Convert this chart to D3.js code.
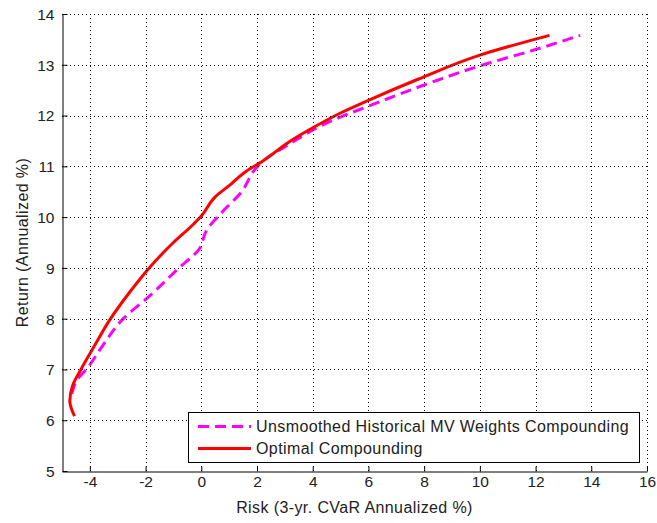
<!DOCTYPE html>
<html>
<head>
<meta charset="utf-8">
<script src="https://cdn.jsdelivr.net/npm/d3@7"></script>
<style>
  body { margin: 0; background: #fff; }
  svg { font-family: "Liberation Sans", Arial, sans-serif; }
</style>
</head>
<body>
<div id="chart"></div>
<script>
// curve points: [risk, return]
const optimalRisk   = [-4.55, -4.72, -4.62, -4.30, -3.85, -3.28, -2.60, -1.90, -1.00, -0.30, 0.00, 0.50, 1.00, 1.60, 2.20, 3.20, 4.20, 5.00, 6.00, 7.80, 10.00, 12.50];
const optimalReturn = [ 6.08,  6.38,  6.68,  7.02,  7.45,  7.98,  8.50,  8.98,  9.50,  9.85, 10.02, 10.40, 10.62, 10.90, 11.10, 11.50, 11.82, 12.05, 12.30, 12.72, 13.19, 13.58];

const mvRisk   = [-4.65, -4.45, -4.10, -3.60, -2.80, -1.85, -0.80, -0.10, 0.20, 0.75, 1.45, 1.90, 2.20, 3.20, 4.30, 6.30, 8.50, 10.00, 12.00, 13.60];
const mvReturn = [ 6.52,  6.80,  7.02,  7.42,  8.00,  8.45,  9.00,  9.35, 9.75, 10.10, 10.50, 10.92, 11.10, 11.45, 11.80, 12.25, 12.70, 12.98, 13.30, 13.58];

const xTicks = [-4, -2, 0, 2, 4, 6, 8, 10, 12, 14, 16];
const yTicks = [5, 6, 7, 8, 9, 10, 11, 12, 13, 14];

const seriesNames = ["Unsmoothed Historical MV Weights Compounding", "Optimal Compounding"];

const W = 657, H = 523;
const margin = { top: 14, right: 10, bottom: 52, left: 62 };

const svg = d3.select("#chart")
    .append("svg")
    .attr("width", W)
    .attr("height", H);

const x = d3.scaleLinear().domain([-5, 16]).range([margin.left, W - margin.right]);
const y = d3.scaleLinear().domain([5, 14]).range([H - margin.bottom, margin.top]);

// return rises along both curves, so smooth with y as the driver
const line = d3.line()
    .x(d => x(d[0]))
    .y(d => y(d[1]))
    .curve(d3.curveMonotoneY);

const mvData = d3.zip(mvRisk, mvReturn);
const optData = d3.zip(optimalRisk, optimalReturn);

// curves
svg.append("path")
    .datum(mvData)
    .attr("d", line)
    .attr("fill", "none")
    .attr("stroke", "#ff00ff")
    .attr("stroke-width", 3)
    .attr("stroke-dasharray", "11,6");

svg.append("path")
    .datum(optData)
    .attr("d", line)
    .attr("fill", "none")
    .attr("stroke", "#ff0000")
    .attr("stroke-width", 3);

// dotted grid, drawn on top like matlab
const grid = svg.append("g")
    .attr("stroke", "#000")
    .attr("stroke-width", 1)
    .attr("stroke-dasharray", "1,3");

grid.selectAll(".vg")
    .data(xTicks)
    .join("line")
    .attr("x1", d => Math.round(x(d)) + 0.5)
    .attr("x2", d => Math.round(x(d)) + 0.5)
    .attr("y1", y(5))
    .attr("y2", y(14));

grid.selectAll(".hg")
    .data(yTicks.slice(1))
    .join("line")
    .attr("x1", x(-5))
    .attr("x2", x(16))
    .attr("y1", d => Math.round(y(d)) + 0.5)
    .attr("y2", d => Math.round(y(d)) + 0.5);

// axes (plain hyphen minus like the original)
const fmt = d => String(d);

const xAxis = svg.append("g")
    .attr("transform", `translate(0,${Math.round(y(5)) + 0.5})`)
    .call(d3.axisBottom(x).tickValues(xTicks).tickFormat(fmt).tickSizeInner(-5).tickSizeOuter(0).tickPadding(4));

const yAxis = svg.append("g")
    .attr("transform", `translate(${Math.round(x(-5)) + 0.5},0)`)
    .call(d3.axisLeft(y).tickValues(yTicks).tickFormat(fmt).tickSizeInner(-5).tickSizeOuter(0).tickPadding(8));

[xAxis, yAxis].forEach(g => {
    g.select(".domain").attr("stroke", "#000");
    g.selectAll(".tick line").attr("stroke", "#000");
    g.selectAll(".tick text")
        .attr("fill", "#222")
        .style("font-size", "15.5px")
        .style("font-family", "Liberation Sans, Arial, sans-serif");
});
yAxis.selectAll(".tick text").attr("dy", "0.35em");

// axis titles
svg.append("text")
    .attr("x", x(5.5))
    .attr("y", 513)
    .attr("text-anchor", "middle")
    .attr("fill", "#222")
    .style("font-size", "16px")
    .style("letter-spacing", "0.4px")
    .text("Risk (3-yr. CVaR Annualized %)");

svg.append("text")
    .attr("transform", `translate(28,${y(9.5)}) rotate(-90)`)
    .attr("text-anchor", "middle")
    .attr("fill", "#222")
    .style("font-size", "16px")
    .style("letter-spacing", "0.4px")
    .text("Return (Annualized %)");

// legend
const legend = svg.append("g");
legend.append("rect")
    .attr("x", 188.5)
    .attr("y", 412.5)
    .attr("width", 451)
    .attr("height", 50)
    .attr("fill", "#fff")
    .attr("stroke", "#000");

const legendItems = [
    { name: seriesNames[0], color: "#ff00ff", dash: "11,6", yy: 426.5 },
    { name: seriesNames[1], color: "#ff0000", dash: null, yy: 448.5 }
];

legendItems.forEach(it => {
    legend.append("line")
        .attr("x1", 198)
        .attr("x2", 251)
        .attr("y1", it.yy)
        .attr("y2", it.yy)
        .attr("stroke", it.color)
        .attr("stroke-width", 3)
        .attr("stroke-dasharray", it.dash);
    legend.append("text")
        .attr("x", 256)
        .attr("y", it.yy)
        .attr("dy", "0.36em")
        .attr("fill", "#222")
        .style("font-size", "16px")
        .style("letter-spacing", "0.4px")
        .text(it.name);
});
</script>
</body>
</html>
